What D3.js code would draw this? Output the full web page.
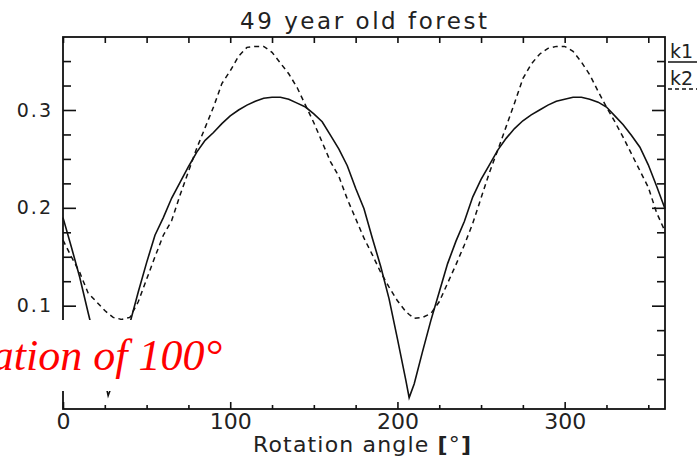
<!DOCTYPE html>
<html>
<head>
<meta charset="utf-8">
<script src="https://cdn.jsdelivr.net/npm/d3@7"></script>
<style>
  body { margin: 0; background: #fff; }
  svg { display: block; }
</style>
</head>
<body>
<svg id="chart"></svg>
<script>
// rotation angle in degrees
var angles = [0, 5, 10, 15, 20, 25, 27, 30, 35, 40, 45, 50, 55, 60, 65, 70, 75, 80, 85, 90,
  95, 100, 105, 110, 115, 120, 125, 130, 135, 140, 145, 150, 155, 160, 165, 170, 175, 180,
  185, 190, 195, 200, 205, 207, 210, 215, 220, 225, 230, 235, 240, 245, 250, 255, 260, 265,
  270, 275, 280, 285, 290, 295, 300, 305, 310, 315, 320, 325, 330, 335, 340, 345, 350, 355, 360];

var k1 = [0.190, 0.160, 0.129, 0.093, 0.058, 0.024, 0.008, 0.022, 0.052, 0.082, 0.114, 0.144,
  0.172, 0.190, 0.210, 0.226, 0.242, 0.257, 0.269, 0.277, 0.286, 0.294, 0.300, 0.305, 0.309,
  0.312, 0.313, 0.313, 0.311, 0.307, 0.303, 0.296, 0.288, 0.274, 0.260, 0.243, 0.220, 0.199,
  0.169, 0.140, 0.107, 0.066, 0.024, 0.006, 0.020, 0.053, 0.085, 0.114, 0.143, 0.166, 0.186,
  0.211, 0.229, 0.244, 0.259, 0.271, 0.281, 0.289, 0.295, 0.300, 0.305, 0.309, 0.311, 0.313,
  0.313, 0.311, 0.308, 0.303, 0.294, 0.285, 0.274, 0.262, 0.244, 0.222, 0.199];

var k2 = [0.167, 0.150, 0.134, 0.113, 0.104, 0.095, 0.092, 0.088, 0.086, 0.088, 0.104, 0.127,
  0.150, 0.172, 0.187, 0.213, 0.237, 0.261, 0.282, 0.303, 0.327, 0.340, 0.355, 0.364, 0.365,
  0.365, 0.359, 0.348, 0.337, 0.323, 0.305, 0.287, 0.267, 0.247, 0.232, 0.209, 0.189, 0.169,
  0.152, 0.134, 0.119, 0.105, 0.094, 0.091, 0.087, 0.088, 0.092, 0.104, 0.123, 0.142, 0.162,
  0.184, 0.210, 0.236, 0.259, 0.283, 0.307, 0.332, 0.347, 0.357, 0.363, 0.365, 0.365, 0.360,
  0.349, 0.336, 0.319, 0.303, 0.288, 0.272, 0.255, 0.238, 0.221, 0.195, 0.176];

var xMajor = [0, 100, 200, 300];
var xMinor = [25, 50, 75, 125, 150, 175, 225, 250, 275, 325, 350];
var yMajor = [0.1, 0.2, 0.3];
var yMinor = [0.025, 0.05, 0.075, 0.125, 0.15, 0.175, 0.225, 0.25, 0.275, 0.325, 0.35];

var width = 697, height = 458;
var plotLeft = 63, plotRight = 665, plotTop = 37, plotBottom = 409;

var svg = d3.select("#chart")
  .attr("width", width)
  .attr("height", height);

var x = d3.scaleLinear().domain([0, 360]).range([plotLeft, plotRight]);
var y = d3.scaleLinear().domain([-0.0056, 0.3746]).range([plotBottom, plotTop]);

var font = "'DejaVu Sans', sans-serif";

// tick marks, all pointing inward
function ticks(axis, g) {
  g.call(axis);
  g.select(".domain").remove();
  g.selectAll("line").attr("stroke", "#111").attr("stroke-width", 1.6);
}

svg.append("g").attr("transform", "translate(0," + plotBottom + ")")
  .call(g => ticks(d3.axisBottom(x).tickValues(xMinor).tickSize(-4).tickFormat(""), g));
svg.append("g").attr("transform", "translate(0," + plotBottom + ")")
  .call(g => ticks(d3.axisBottom(x).tickValues(xMajor).tickSize(-7).tickPadding(4).tickFormat(d3.format("d")), g))
  .selectAll("text")
  .style("font-family", font).style("font-size", "22px").attr("fill", "#222");

svg.append("g").attr("transform", "translate(0," + plotTop + ")")
  .call(g => ticks(d3.axisTop(x).tickValues(xMinor.concat(xMajor)).tickSize(-6).tickFormat(""), g));

svg.append("g").attr("transform", "translate(" + plotLeft + ",0)")
  .call(g => ticks(d3.axisLeft(y).tickValues(yMinor).tickSize(-8).tickFormat(""), g));
svg.append("g").attr("transform", "translate(" + plotLeft + ",0)")
  .call(g => ticks(d3.axisLeft(y).tickValues(yMajor).tickSize(-13).tickPadding(10).tickFormat(d3.format(".1f")), g))
  .selectAll("text")
  .style("font-family", font).style("font-size", "19px").style("letter-spacing", "2px").attr("fill", "#222");

svg.append("g").attr("transform", "translate(" + plotRight + ",0)")
  .call(g => ticks(d3.axisRight(y).tickValues(yMinor).tickSize(-8).tickFormat(""), g));
svg.append("g").attr("transform", "translate(" + plotRight + ",0)")
  .call(g => ticks(d3.axisRight(y).tickValues(yMajor).tickSize(-13).tickFormat(""), g));

// frame
svg.append("rect")
  .attr("x", plotLeft).attr("y", plotTop)
  .attr("width", plotRight - plotLeft).attr("height", plotBottom - plotTop)
  .attr("fill", "none").attr("stroke", "#111").attr("stroke-width", 1.8);

// curves
var line = d3.line()
  .x(function (d) { return x(d[0]); })
  .y(function (d) { return y(d[1]); });

svg.append("path")
  .datum(angles.map(function (a, i) { return [a, k1[i]]; }))
  .attr("d", line)
  .attr("fill", "none").attr("stroke", "#111").attr("stroke-width", 1.6);

svg.append("path")
  .datum(angles.map(function (a, i) { return [a, k2[i]]; }))
  .attr("d", line)
  .attr("fill", "none").attr("stroke", "#111").attr("stroke-width", 1.5)
  .attr("stroke-dasharray", "5,4");

// title
svg.append("text")
  .attr("x", 240).attr("y", 29)
  .attr("textLength", 247).attr("lengthAdjust", "spacing")
  .style("font-family", font).style("font-size", "23px").attr("fill", "#222")
  .text("49 year old forest");

// x axis label
var xl = svg.append("text")
  .attr("x", 253).attr("y", 452)
  .attr("textLength", 218).attr("lengthAdjust", "spacing")
  .style("font-family", font).style("font-size", "22px").attr("fill", "#222");
xl.append("tspan").text("Rotation angle ");
xl.append("tspan").style("font-weight", "bold").text("[");
xl.append("tspan").text("°");
xl.append("tspan").style("font-weight", "bold").text("]");

// legend
var legend = [{ name: "k1", dash: null, y: 58 }, { name: "k2", dash: "4,3", y: 85 }];
legend.forEach(function (l) {
  svg.append("text")
    .attr("x", 670).attr("y", l.y)
    .style("font-family", font).style("font-size", "19px").attr("fill", "#222")
    .text(l.name);
  svg.append("line")
    .attr("x1", 668).attr("x2", 697)
    .attr("y1", l.y + 4).attr("y2", l.y + 4)
    .attr("stroke", "#111").attr("stroke-width", 1.5)
    .attr("stroke-dasharray", l.dash);
});

// white label box pasted over the plot
svg.append("rect")
  .attr("x", 0).attr("y", 320)
  .attr("width", 243).attr("height", 71)
  .attr("fill", "#fff");

svg.append("text")
  .attr("x", 222).attr("y", 370)
  .attr("text-anchor", "end")
  .style("font-family", "'Liberation Serif', 'Times New Roman', serif")
  .style("font-style", "italic").style("font-size", "44px")
  .attr("fill", "#ff0000")
  .text("Rotation of 100°");
</script>
</body>
</html>
